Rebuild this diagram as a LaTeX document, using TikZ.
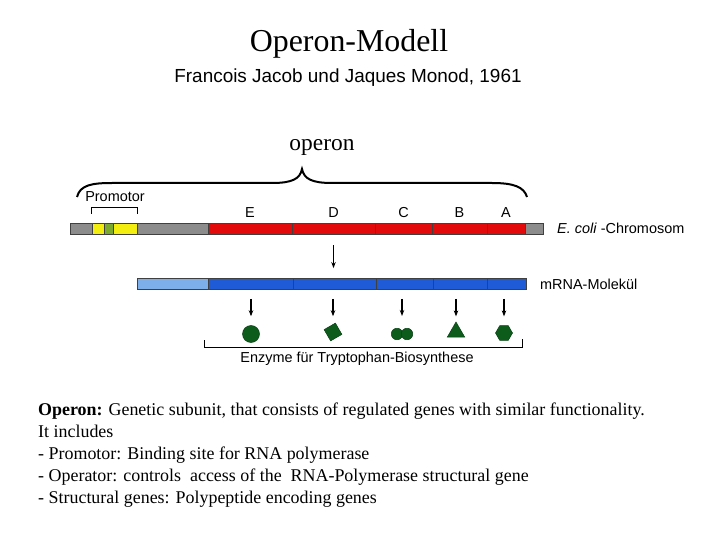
\documentclass[tikz,border=0pt]{standalone}
\usepackage{fontspec}
\setmainfont{Liberation Serif}
\setsansfont{Liberation Sans}
\usetikzlibrary{shapes.geometric}
\usetikzlibrary{arrows.meta}
\usetikzlibrary{positioning}
\definecolor{chrgray}{HTML}{8C8C8C}
\definecolor{proyellow}{HTML}{F4EE10}
\definecolor{progreen}{HTML}{7BAA2C}
\definecolor{genred}{HTML}{E20A0A}
\definecolor{leadblue}{HTML}{7DB0EA}
\definecolor{rnablue}{HTML}{1F5BD6}
\definecolor{enzgreen}{HTML}{0D5C1C}
\newcommand{\gseg}[5]{\draw ({(#2+#3)/2},#4) node[seg,fill=#5,minimum width={(#3-#2)*1bp}] (#1) {};}
\newcommand{\glab}{\sffamily\fontsize{14.5}{16}\selectfont}

\begin{document}
\begin{tikzpicture}[x=1bp,y=-1bp,
  every node/.style={inner sep=0pt},
  seg/.style={rectangle,draw=black!75,line width=0.8bp,minimum height=11bp},
  enz/.style={fill=enzgreen,draw=enzgreen!70!black,line width=0.5bp},
  xl/.style={-{Stealth[length=6bp,width=4.5bp]},line width=1.1bp}]
 \fill[white] (0,0) rectangle (720,540);
 \useasboundingbox (0,0) rectangle (720,540);

 \draw (349,44) node[font=\fontsize{32}{36}\selectfont] (title) {Operon-Modell};
 \draw (348,78) node[font=\sffamily\fontsize{19}{21}\selectfont] (sub)
              {Francois Jacob und Jaques Monod, 1961};
 \draw (322,147) node[font=\fontsize{23.5}{26}\selectfont] (op) {operon};

 \draw[line width=2bp] (77,197) .. controls (80,185) and (92,183) .. (112,183)
     -- (272,183) .. controls (292,183) and (300,179) .. (302,169)
     .. controls (304,179) and (312,183) .. (332,183)
     -- (492,183) .. controls (514,183) and (524,187) .. (527,197);

 \gseg{c0}{70}{92}{228.5}{chrgray}
 \gseg{p1}{92}{104}{228.5}{proyellow}
 \gseg{p2}{104}{113}{228.5}{progreen}
 \gseg{p3}{113}{137}{228.5}{proyellow}
 \gseg{c1}{137}{208}{228.5}{chrgray}
 \gseg{cE}{208}{292}{228.5}{genred}
 \gseg{cD}{292}{375}{228.5}{genred}
 \gseg{cC}{375}{432}{228.5}{genred}
 \gseg{cB}{432}{487}{228.5}{genred}
 \gseg{cA}{487}{525}{228.5}{genred}
 \gseg{c2}{525}{543}{228.5}{chrgray}

 \node[font=\glab,above=5bp of cE] (tE) {E};
 \node[font=\glab,above=5bp of cD] (tD) {D};
 \node[font=\glab,above=5bp of cC] (tC) {C};
 \node[font=\glab,above=5bp of cB] (tB) {B};
 \node[font=\glab,above=5bp of cA] (tA) {A};

 \draw[line width=1bp] (p1.north west) ++(0,-9) coordinate (pl) -- ++(0,-6)
     -| ([yshift=9bp]p3.north east) coordinate (pr);
 \draw (115,197) node[font=\glab] (prom) {Promotor};
 \node[font=\glab,anchor=west] (chr) at (557,228) {\textit{E. coli} -Chromosom};

 \gseg{m0}{137}{208}{284}{leadblue}
 \gseg{mE}{208}{293}{284}{rnablue}
 \gseg{mD}{293}{376}{284}{rnablue}
 \gseg{mC}{376}{433}{284}{rnablue}
 \gseg{mB}{433}{487}{284}{rnablue}
 \gseg{mA}{487}{526}{284}{rnablue}
 \node[font=\glab,anchor=west] (mrna) at (540,284) {mRNA-Molekül};

 \draw[xl,shorten <=11bp,shorten >=10bp] (cD.south) -- (cD.south |- mD.north);

 \draw (251,334) node[enz,circle,minimum size=17bp] (eE) {};
 \draw (333,332) node[enz,rectangle,rotate=30,minimum size=13bp] (eD) {};
 \draw (397,334) node[enz,circle,minimum size=11.5bp] (eC1) {};
 \draw (407,334) node[enz,circle,minimum size=11.5bp] (eC2) {};
 \coordinate (eC) at (402,326);
 \draw (456,332) node[enz,regular polygon,regular polygon sides=3,minimum size=20bp] (eB) {};
 \draw (504,333) node[enz,regular polygon,regular polygon sides=6,minimum size=17bp] (eA) {};

 \draw[xl,shorten <=9bp,shorten >=9bp] (eE |- mE.south) -- (eE.north);
 \draw[xl,shorten <=9bp,shorten >=9bp] (eD |- mD.south) -- (eD |- eE.north);
 \draw[xl,shorten <=9bp,shorten >=10bp] (eC |- mC.south) -- (eC);
 \draw[xl,shorten <=9bp,shorten >=9bp] (eB |- mB.south) -- (eB |- eA.north);
 \draw[xl,shorten <=9bp,shorten >=9bp] (eA |- mA.south) -- (eA.north);

 \draw[line width=1bp] (204,340) coordinate (bl) -- (204,347) -- (522,347) -- (522,339) coordinate (br);
 \draw (357,359) node[font=\glab] (enzlab) {Enzyme für Tryptophan-Biosynthese};

 \draw (38,403) node[anchor=north west,align=left,font=\fontsize{18}{22}\selectfont] (txt)
    {\textbf{Operon:} Genetic subunit, that consists of regulated genes with similar functionality.\\
     It includes\\
     - Promotor: Binding site for RNA polymerase\\
     - Operator: controls\ \ access of the\ \ RNA-Polymerase structural gene\\
     - Structural genes: Polypeptide encoding genes};
\end{tikzpicture}
\end{document}
